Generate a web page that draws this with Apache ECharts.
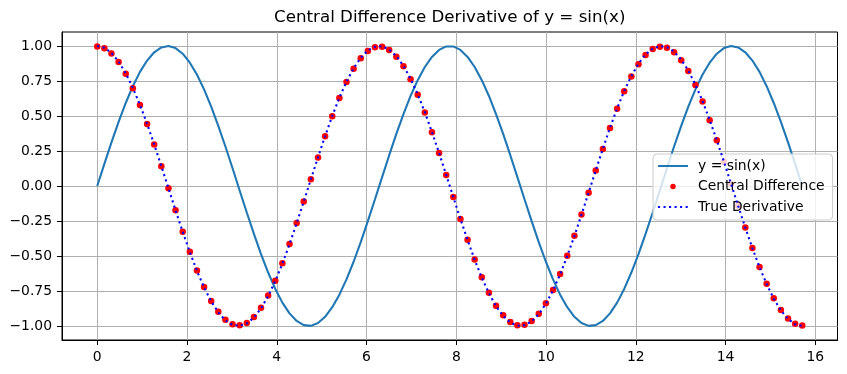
<!DOCTYPE html>
<html>
<head>
<meta charset="utf-8">
<script src="https://cdn.jsdelivr.net/npm/echarts@6/dist/echarts.min.js"></script>
<style>html,body{margin:0;padding:0;background:#fff;}#c{width:847px;height:374px;}</style>
</head>
<body>
<div id="c"></div>
<script>
const titleText = 'Central Difference Derivative of y = sin(x)';
const seriesNames = ['y = sin(x)', 'Central Difference', 'True Derivative'];

const xValues = [0,0.159,0.317,0.476,0.635,0.793,0.952,1.111,1.269,1.428,1.587,1.745,1.904,2.063,2.221,2.380,2.539,2.697,2.856,3.015,
3.173,3.332,3.491,3.649,3.808,3.967,4.125,4.284,4.443,4.601,4.760,4.919,5.077,5.236,5.395,5.553,5.712,5.871,6.029,6.188,
6.347,6.505,6.664,6.823,6.981,7.140,7.299,7.457,7.616,7.775,7.933,8.092,8.251,8.409,8.568,8.727,8.885,9.044,9.203,9.361,
9.520,9.679,9.837,9.996,10.155,10.313,10.472,10.631,10.789,10.948,11.107,11.265,11.424,11.583,11.741,11.900,12.059,12.217,12.376,12.535,
12.693,12.852,13.011,13.169,13.328,13.487,13.645,13.804,13.963,14.121,14.280,14.439,14.597,14.756,14.915,15.073,15.232,15.391,15.549,15.708];

const sinValues = [0,0.158,0.312,0.458,0.593,0.713,0.815,0.896,0.955,0.990,1.000,0.985,0.945,0.881,0.796,0.690,0.567,0.430,0.282,0.127,
-0.032,-0.189,-0.342,-0.486,-0.618,-0.735,-0.833,-0.910,-0.964,-0.994,-0.999,-0.979,-0.934,-0.866,-0.776,-0.667,-0.541,-0.401,-0.251,-0.095,
0.063,0.220,0.372,0.514,0.643,0.756,0.850,0.922,0.972,0.997,0.997,0.972,0.922,0.850,0.756,0.643,0.514,0.372,0.220,0.063,
-0.095,-0.251,-0.401,-0.541,-0.667,-0.776,-0.866,-0.934,-0.979,-0.999,-0.994,-0.964,-0.910,-0.833,-0.735,-0.618,-0.486,-0.342,-0.189,-0.032,
0.127,0.282,0.430,0.567,0.690,0.796,0.881,0.945,0.985,1.000,0.990,0.955,0.896,0.815,0.713,0.593,0.458,0.312,0.158,0.000];

const centralDiffValues = [0.996,0.984,0.946,0.885,0.802,0.698,0.578,0.442,0.296,0.141,-0.016,-0.173,-0.326,-0.470,-0.604,-0.721,-0.821,-0.899,-0.956,-0.988,
-0.995,-0.978,-0.936,-0.870,-0.783,-0.676,-0.552,-0.414,-0.265,-0.111,0.048,0.204,0.356,0.498,0.628,0.742,0.838,0.912,0.964,0.991,
0.994,0.971,0.924,0.855,0.763,0.652,0.525,0.384,0.235,0.079,-0.079,-0.235,-0.384,-0.525,-0.652,-0.763,-0.855,-0.924,-0.971,-0.994,
-0.991,-0.964,-0.912,-0.838,-0.742,-0.628,-0.498,-0.356,-0.204,-0.048,0.111,0.265,0.414,0.552,0.676,0.783,0.870,0.936,0.978,0.995,
0.988,0.956,0.899,0.821,0.721,0.604,0.470,0.326,0.173,0.016,-0.141,-0.296,-0.442,-0.578,-0.698,-0.802,-0.885,-0.946,-0.984,-0.996];

const trueDerivValues = [1.000,0.988,0.950,0.889,0.805,0.701,0.580,0.444,0.297,0.142,-0.016,-0.174,-0.327,-0.472,-0.606,-0.724,-0.824,-0.903,-0.960,-0.992,
-0.999,-0.982,-0.940,-0.874,-0.786,-0.679,-0.554,-0.416,-0.266,-0.111,0.048,0.205,0.357,0.500,0.631,0.745,0.841,0.916,0.968,0.995,
0.998,0.975,0.928,0.858,0.766,0.655,0.527,0.386,0.236,0.079,-0.079,-0.236,-0.386,-0.527,-0.655,-0.766,-0.858,-0.928,-0.975,-0.998,
-0.995,-0.968,-0.916,-0.841,-0.745,-0.631,-0.500,-0.357,-0.205,-0.048,0.111,0.266,0.416,0.554,0.679,0.786,0.874,0.940,0.982,0.999,
0.992,0.960,0.903,0.824,0.724,0.606,0.472,0.327,0.174,0.016,-0.142,-0.297,-0.444,-0.580,-0.701,-0.805,-0.889,-0.950,-0.988,-1.000];

const xTickValues = [0, 2, 4, 6, 8, 10, 12, 14, 16];
const xTickLabels = ['0', '2', '4', '6', '8', '10', '12', '14', '16'];
const yTickValues = [-1, -0.75, -0.5, -0.25, 0, 0.25, 0.5, 0.75, 1];
const yTickLabels = ['\u22121.00', '\u22120.75', '\u22120.50', '\u22120.25', '0.00', '0.25', '0.50', '0.75', '1.00'];

const FONT = 'DejaVu Sans';
const pairs = (ys) => xValues.map((x, i) => [x, ys[i]]);
const labelFor = (vals, labels) => (v) => {
  for (let i = 0; i < vals.length; i++) if (Math.abs(vals[i] - v) < 1e-6) return labels[i];
  return '';
};

const chart = echarts.init(document.getElementById('c'), null, {renderer: 'canvas'});
chart.setOption({
  animation: false,
  backgroundColor: '#ffffff',
  title: {
    text: titleText,
    left: 449.75,
    top: 8,
    padding: 0,
    textAlign: 'center',
    textStyle: {fontFamily: FONT, fontSize: 16.7, fontWeight: 'normal', color: '#000', lineHeight: 20}
  },
  grid: {
    left: 62, top: 32, right: 9.5, bottom: 34,
    show: true, borderColor: '#000', borderWidth: 1, backgroundColor: 'transparent',
    containLabel: false
  },
  xAxis: {
    type: 'value',
    min: -0.785, max: 16.493,
    axisLine: {show: true, onZero: false, lineStyle: {color: '#000', width: 1}},
    axisTick: {show: true, inside: false, length: 5, customValues: xTickValues, lineStyle: {color: '#000', width: 1}},
    axisLabel: {show: true, customValues: xTickValues, margin: 10, fontFamily: FONT, fontSize: 13.9, color: '#000',
      formatter: labelFor(xTickValues, xTickLabels)},
    splitLine: {show: true, lineStyle: {color: '#b0b0b0', width: 1}}
  },
  yAxis: {
    type: 'value',
    min: -1.1, max: 1.1,
    axisLine: {show: true, onZero: false, lineStyle: {color: '#000', width: 1}},
    axisTick: {show: true, inside: false, length: 5, customValues: yTickValues, lineStyle: {color: '#000', width: 1}},
    axisLabel: {show: true, customValues: yTickValues, margin: 10, fontFamily: FONT, fontSize: 13.9, color: '#000',
      formatter: labelFor(yTickValues, yTickLabels)},
    splitLine: {show: true, lineStyle: {color: '#b0b0b0', width: 1}}
  },
  legend: {
    orient: 'vertical',
    left: 653, top: 154,
    padding: [5, 8, 6, 4],
    itemWidth: 30, itemHeight: 14, itemGap: 6.5,
    backgroundColor: 'rgba(255,255,255,0.8)',
    borderColor: '#cccccc', borderWidth: 1, borderRadius: 4,
    textStyle: {fontFamily: FONT, fontSize: 13.9, color: '#000', padding: [0, 0, 0, 5]},
    data: [
      {name: seriesNames[0], itemStyle: {opacity: 0}},
      {name: seriesNames[1], icon: 'path://M0,0L0.01,0M30,14L30.01,14M15,4.25A2.75,2.75,0,1,1,15,9.75A2.75,2.75,0,1,1,15,4.25Z'},
      {name: seriesNames[2], itemStyle: {opacity: 0}}
    ]
  },
  series: [
    {
      name: seriesNames[0], type: 'line', data: pairs(sinValues),
      symbol: 'none', showSymbol: false, smooth: false,
      lineStyle: {color: '#1f77b4', width: 2.08}, itemStyle: {color: '#1f77b4'}, z: 2
    },
    {
      name: seriesNames[1], type: 'scatter', data: pairs(centralDiffValues),
      symbol: 'circle', symbolSize: 6.5,
      itemStyle: {color: '#ff0000', opacity: 1}, z: 3
    },
    {
      name: seriesNames[2], type: 'line', data: pairs(trueDerivValues),
      symbol: 'none', showSymbol: false,
      lineStyle: {color: '#0000ff', width: 2.08, type: [2.08, 3.44], cap: 'butt'}, itemStyle: {color: '#0000ff'}, z: 4
    }
  ]
});
</script>
</body>
</html>
